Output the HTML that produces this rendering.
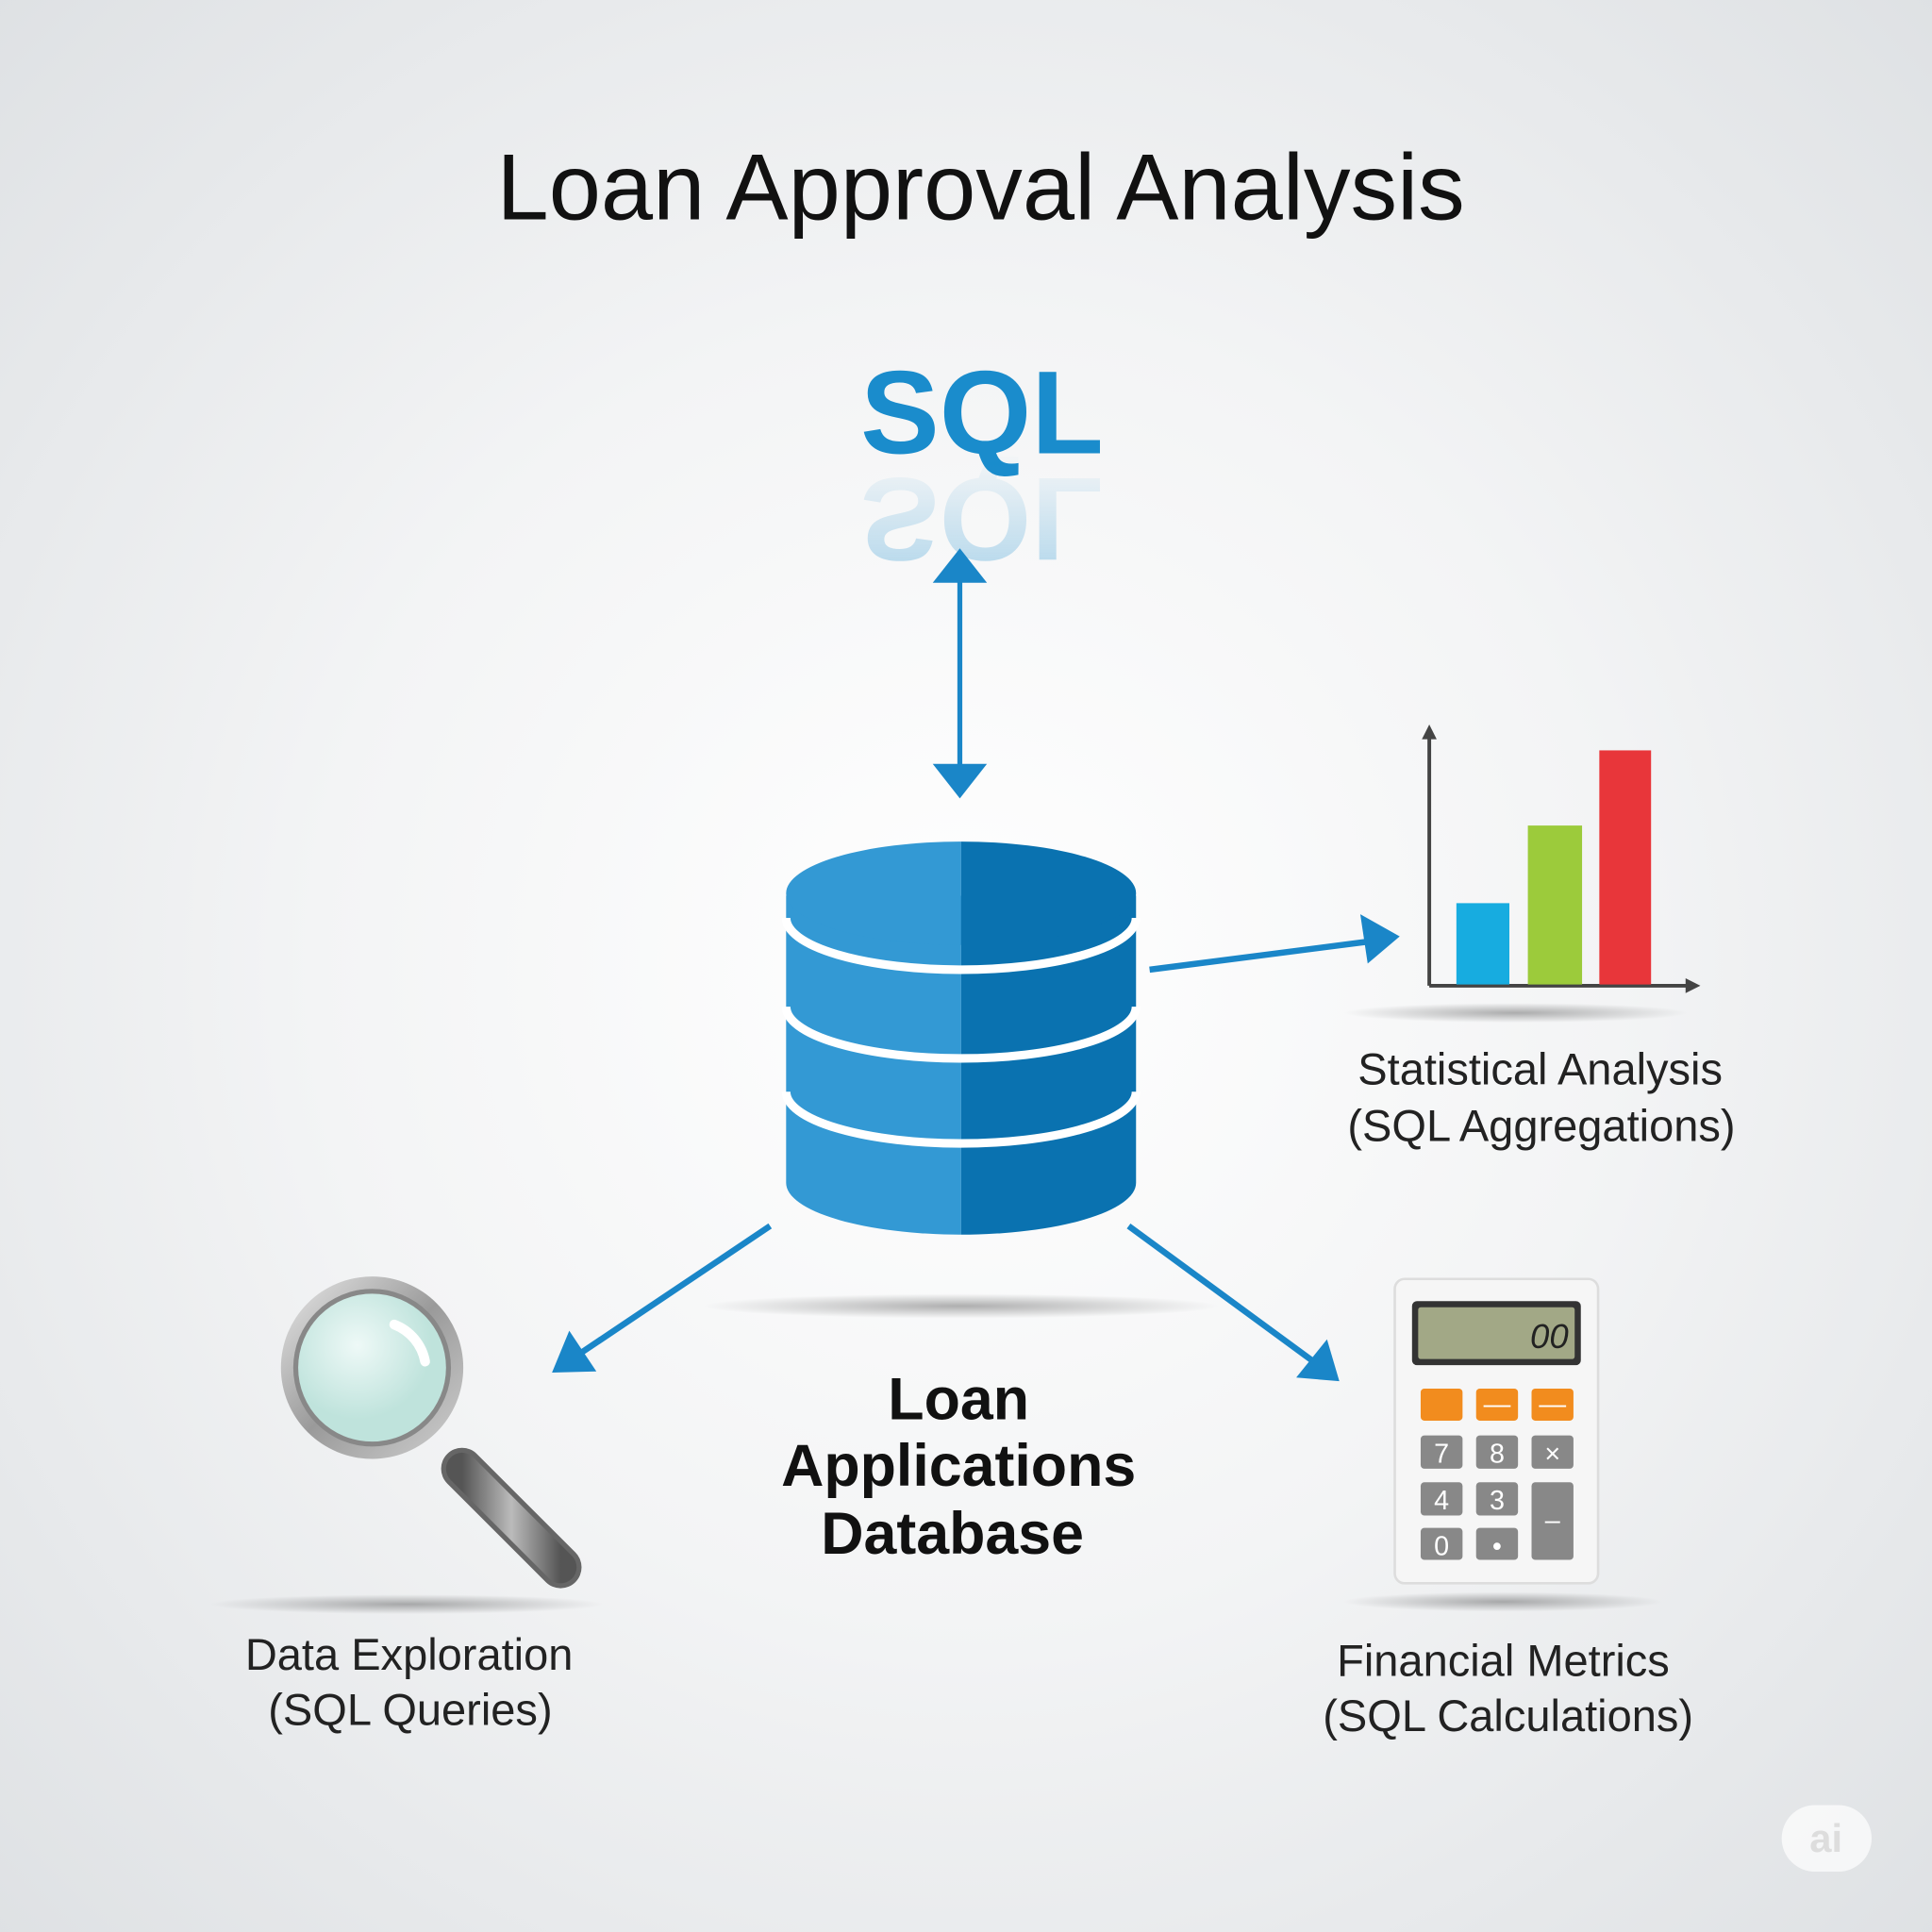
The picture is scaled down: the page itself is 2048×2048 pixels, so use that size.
<!DOCTYPE html>
<html><head><meta charset="utf-8"><style>html,body{margin:0;padding:0;width:2048px;height:2048px;overflow:hidden}svg{display:block}text{font-family:"Liberation Sans","DejaVu Sans",sans-serif}</style></head>
<body>
<svg width="2048" height="2048" viewBox="0 0 1568 1568" xmlns="http://www.w3.org/2000/svg">
<defs>
<radialGradient id="bg" cx="0.5" cy="0.5" r="0.75">
<stop offset="0" stop-color="#ffffff"/><stop offset="0.45" stop-color="#f3f4f5"/><stop offset="1" stop-color="#dcdfe2"/></radialGradient>
<linearGradient id="refl" x1="0" y1="0" x2="0" y2="1"><stop offset="0" stop-color="#1a8ccc" stop-opacity="0.55"/><stop offset="1" stop-color="#1a8ccc" stop-opacity="0"/></linearGradient>
<radialGradient id="sh"><stop offset="0" stop-color="#000" stop-opacity="0.3"/><stop offset="1" stop-color="#000" stop-opacity="0"/></radialGradient>
<radialGradient id="lens" cx="0.4" cy="0.35"><stop offset="0" stop-color="#eef9f7"/><stop offset="1" stop-color="#bfe3dc"/></radialGradient>
<linearGradient id="ring" x1="0" y1="0" x2="1" y2="1"><stop offset="0" stop-color="#e8e8e8"/><stop offset="0.5" stop-color="#9a9a9a"/><stop offset="1" stop-color="#d0d0d0"/></linearGradient>
<linearGradient id="handle" x1="0" y1="0" x2="1" y2="0"><stop offset="0" stop-color="#555"/><stop offset="0.5" stop-color="#bbb"/><stop offset="1" stop-color="#555"/></linearGradient>
</defs>
<rect width="1568" height="1568" fill="url(#bg)"/>
<text x="796" y="178" font-size="76" text-anchor="middle" fill="#111">Loan Approval Analysis</text>
<text x="797" y="368" font-size="96" text-anchor="middle" fill="#1a8ccc" font-weight="bold">SQL</text>
<text x="797" y="-388" font-size="96" text-anchor="middle" fill="url(#refl)" font-weight="bold" transform="scale(1,-1)" opacity="0.6">SQL</text>
<!-- vertical double arrow -->
<g fill="#1a86c8" stroke="#1a86c8">
<line x1="779" y1="468" x2="779" y2="625" stroke-width="4"/>
<polygon points="779,445 801,473 757,473" stroke="none"/>
<polygon points="779,648 801,620 757,620" stroke="none"/>
<line x1="933" y1="787" x2="1112" y2="764" stroke-width="5"/>
<polygon points="1136,760 1104,742 1110,782" stroke="none"/>
<line x1="625" y1="995" x2="470" y2="1099" stroke-width="5"/>
<polygon points="448,1114 484,1113 462,1080" stroke="none"/>
<line x1="916" y1="995" x2="1066" y2="1105" stroke-width="5"/>
<polygon points="1087,1121 1077,1087 1052,1118" stroke="none"/>
</g>
<!-- shadows -->
<ellipse cx="780" cy="1060" rx="210" ry="10" fill="url(#sh)"/>
<ellipse cx="330" cy="1302" rx="160" ry="8" fill="url(#sh)"/>
<ellipse cx="1230" cy="822" rx="140" ry="8" fill="url(#sh)"/>
<ellipse cx="1220" cy="1300" rx="130" ry="8" fill="url(#sh)"/>
<!-- cylinder -->
<clipPath id="L"><rect x="600" y="600" width="180" height="450"/></clipPath>
<clipPath id="R"><rect x="780" y="600" width="180" height="450"/></clipPath>
<g>
<path d="M638,727 V960 A142,42 0 0 0 922,960 V727 Z" fill="#3399d4" clip-path="url(#L)"/>
<path d="M638,727 V960 A142,42 0 0 0 922,960 V727 Z" fill="#0a72b0" clip-path="url(#R)"/>
<ellipse cx="780" cy="725" rx="142" ry="42" fill="#3399d4" clip-path="url(#L)"/>
<ellipse cx="780" cy="725" rx="142" ry="42" fill="#0a72b0" clip-path="url(#R)"/>
<path d="M638,745 A142,42 0 0 0 922,745" fill="none" stroke="#fff" stroke-width="7"/>
<path d="M638,817 A142,42 0 0 0 922,817" fill="none" stroke="#fff" stroke-width="7"/>
<path d="M638,886 A142,42 0 0 0 922,886" fill="none" stroke="#fff" stroke-width="7"/>
</g>
<!-- chart -->
<g>
<line x1="1160" y1="800" x2="1160" y2="598" stroke="#444" stroke-width="3"/>
<polygon points="1160,588 1154,600 1166,600" fill="#444"/>
<line x1="1160" y1="800" x2="1370" y2="800" stroke="#444" stroke-width="3"/>
<polygon points="1380,800 1368,794 1368,806" fill="#444"/>
<rect x="1182" y="733" width="43" height="66" fill="#17ace0"/>
<rect x="1240" y="670" width="44" height="129" fill="#9ccb3b"/>
<rect x="1298" y="609" width="42" height="190" fill="#e8363a"/>
</g>
<text x="1250" y="880" font-size="36" text-anchor="middle" fill="#222">Statistical Analysis</text>
<text x="1251" y="926" font-size="36" text-anchor="middle" fill="#222">(SQL Aggregations)</text>
<!-- magnifier -->
<g>
<line x1="375" y1="1192" x2="455" y2="1272" stroke="#666" stroke-width="34" stroke-linecap="round"/>
<line x1="375" y1="1192" x2="455" y2="1272" stroke="url(#handle)" stroke-width="26" stroke-linecap="round"/>
<circle cx="302" cy="1110" r="74" fill="url(#ring)"/>
<circle cx="302" cy="1110" r="64" fill="#888"/>
<circle cx="302" cy="1110" r="60" fill="url(#lens)"/>
<path d="M320,1075 A40,40 0 0 1 345,1105" stroke="#fff" stroke-width="8" fill="none" stroke-linecap="round"/>
</g>
<text x="778" y="1152" font-size="48" text-anchor="middle" fill="#111" font-weight="bold">Loan</text>
<text x="778" y="1206" font-size="48" text-anchor="middle" fill="#111" font-weight="bold">Applications</text>
<text x="773" y="1261" font-size="48" text-anchor="middle" fill="#111" font-weight="bold">Database</text>
<text x="332" y="1355" font-size="36" text-anchor="middle" fill="#222">Data Exploration</text>
<text x="333" y="1400" font-size="36" text-anchor="middle" fill="#222">(SQL Queries)</text>
<!-- calculator -->
<g>
<rect x="1132" y="1038" width="165" height="247" rx="8" fill="#f6f6f6" stroke="#ddd" stroke-width="2"/>
<rect x="1146" y="1056" width="137" height="52" rx="4" fill="#333"/>
<rect x="1151" y="1061" width="127" height="42" rx="2" fill="#a2a886"/>
<text x="1273" y="1094" font-size="28" text-anchor="end" fill="#222" font-style="italic">00</text>
<g fill="#f28c1e"><rect x="1153" y="1127" width="34" height="26" rx="3"/><rect x="1198" y="1127" width="34" height="26" rx="3"/><rect x="1243" y="1127" width="34" height="26" rx="3"/></g>
<g fill="#fff" font-size="22" text-anchor="middle"><text x="1215" y="1147">—</text><text x="1260" y="1147">—</text></g>
<g fill="#888"><rect x="1153" y="1165" width="34" height="27" rx="3"/><rect x="1198" y="1165" width="34" height="27" rx="3"/><rect x="1243" y="1165" width="34" height="27" rx="3"/>
<rect x="1153" y="1203" width="34" height="27" rx="3"/><rect x="1198" y="1203" width="34" height="27" rx="3"/><rect x="1243" y="1203" width="34" height="63" rx="3"/>
<rect x="1153" y="1240" width="34" height="26" rx="3"/><rect x="1198" y="1240" width="34" height="26" rx="3"/></g>
<g fill="#fff" font-size="22" text-anchor="middle"><text x="1170" y="1187">7</text><text x="1215" y="1187">8</text><text x="1260" y="1187">×</text><text x="1170" y="1225">4</text><text x="1215" y="1225">3</text><text x="1260" y="1241">–</text><text x="1170" y="1262">0</text><text x="1215" y="1262">•</text></g>
</g>
<text x="1220" y="1360" font-size="36" text-anchor="middle" fill="#222">Financial Metrics</text>
<text x="1224" y="1405" font-size="36" text-anchor="middle" fill="#222">(SQL Calculations)</text>
<rect x="1446" y="1465" width="73" height="54" rx="27" fill="#fff" opacity="0.7"/>
<text x="1482" y="1503" font-size="32" text-anchor="middle" fill="#ddd" font-weight="bold">ai</text>
</svg>
</body></html>
